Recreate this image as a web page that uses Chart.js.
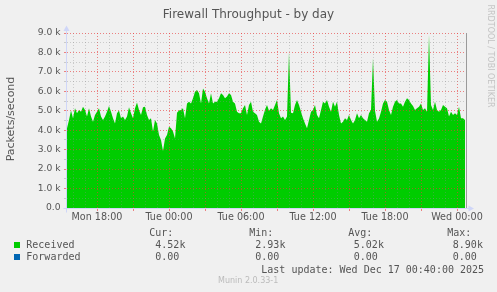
<!DOCTYPE html>
<html><head><meta charset="utf-8">
<script src="https://cdn.jsdelivr.net/npm/chart.js@4.4.1/dist/chart.umd.min.js"></script>
<style>
html,body{margin:0;padding:0;background:#f0f0f0;}
#wrap{position:relative;width:497px;height:292px;overflow:hidden;background:#f0f0f0;font-family:'DejaVu Sans',sans-serif;color:#555;}
#c{position:absolute;left:0;top:0;}
.t{position:absolute;white-space:pre;}
.mono{font-family:'DejaVu Sans Mono',monospace;font-size:10px;line-height:12px;color:#555;}
.sw{position:absolute;width:6px;height:6px;}
</style></head><body>
<div id="wrap">
<canvas id="c" width="497" height="292"></canvas>
<div class="t" style="left:0;top:7px;width:497px;text-align:center;font-size:12px;line-height:14px;color:#555;">Firewall Throughput - by day</div>
<div class="t" style="left:-38.8px;top:112px;width:100px;height:14px;text-align:center;font-size:11px;line-height:14px;color:#555;transform:rotate(-90deg);">Packets/second</div>
<div class="t" style="left:434.5px;top:51px;width:110px;height:10px;text-align:center;font-size:8px;line-height:10px;color:#c4c4c4;transform:rotate(90deg);">RRDTOOL / TOBI OETIKER</div>
<div id="legend"></div>
<div class="t" style="left:218px;top:276px;font-size:8px;line-height:10px;color:#bbb;">Munin 2.0.33-1</div>
</div>
<script>
// Received packets per second, in thousands, one sample every 10 minutes
const startHour = -8.5;          // Mon 15:30, hours relative to Tue 00:00
const stepHours = 10 / 60;
const xMaxHour = 24 + 50 / 60;
const received = [
4.10,
4.53,5.01,4.61,5.13,4.87,5.04,4.95,5.21,5.04,4.70,
5.13,4.70,4.44,4.78,4.95,5.13,4.70,4.53,4.70,4.95,
5.25,4.95,4.61,4.35,4.87,5.01,4.61,4.70,4.53,4.70,
5.18,4.87,4.61,5.13,5.42,5.04,4.78,5.18,5.21,4.78,
4.53,4.61,3.93,4.53,4.35,3.75,3.50,2.93,3.58,3.75,
4.18,
4.10,3.93,3.58,4.90,5.01,5.04,5.13,4.61,
5.38,5.47,5.38,5.64,5.98,6.07,5.90,5.38,6.15,5.98,
5.64,5.38,5.90,5.38,5.47,5.47,5.64,5.90,5.81,5.64,
5.73,5.90,5.81,5.47,5.38,4.95,4.87,4.87,5.13,5.30,
4.78,5.30,5.47,4.95,4.87,4.78,4.44,4.35,4.70,5.05,
5.30,5.00,
5.13,5.04,5.30,5.55,4.87,4.61,4.70,4.53,
4.70,8.00,4.90,4.87,5.30,5.55,5.30,4.95,4.61,4.35,
4.10,4.53,4.95,5.04,5.30,4.78,4.61,5.04,5.47,5.38,
5.55,5.21,4.95,5.47,5.21,5.47,4.78,4.35,4.44,4.61,
4.53,4.78,4.53,4.35,4.53,4.87,4.61,4.78,4.61,4.53,
4.44,4.87,
5.04,7.70,5.00,4.44,4.60,4.95,5.38,5.55,
5.47,5.04,4.78,5.21,5.47,5.55,5.38,5.38,5.21,5.47,
5.64,5.55,5.38,5.25,5.04,5.13,5.21,5.38,5.04,5.13,
4.95,8.90,5.30,5.04,5.47,5.04,4.95,5.04,5.30,5.21,
5.13,4.70,4.95,4.78,4.87,4.78,5.21,4.61,4.61,4.52
];
const yTickLabels = ['0.0','1.0 k','2.0 k','3.0 k','4.0 k','5.0 k','6.0 k','7.0 k','8.0 k','9.0 k'];
const xTickHours = [-6, 0, 6, 12, 18, 24];
const xTickLabels = ['Mon 18:00','Tue 00:00','Tue 06:00','Tue 12:00','Tue 18:00','Wed 00:00'];
const seriesNames = ['Received', 'Forwarded'];
const seriesColors = ['#00cc00', '#0066b3'];
const statHeaders = ['Cur:', 'Min:', 'Avg:', 'Max:'];
const statsReceived = ['4.52k', '2.93k', '5.02k', '8.90k'];
const statsForwarded = ['0.00', '0.00', '0.00', '0.00'];
const lastUpdate = 'Last update: Wed Dec 17 00:40:00 2025';

// legend (text block)
(function(){
  const L = document.getElementById('legend');
  const add = (txt, left, top, cls, extra) => {
    const d = document.createElement('div');
    d.className = 't ' + (cls || '');
    d.style.left = left + 'px'; d.style.top = top + 'px';
    if (extra) Object.assign(d.style, extra);
    d.textContent = txt; L.appendChild(d); return d;
  };
  const hx = [149.3, 249.3, 348.3, 447.3];
  const vx = [155.3, 255.3, 353.8, 452.8];
  statHeaders.forEach((h, i) => add(h, hx[i], 227, 'mono'));
  const rows = [statsReceived, statsForwarded];
  const rowTop = [239.3, 251.3];
  seriesNames.forEach((n, r) => {
    const sw = document.createElement('div');
    sw.className = 'sw'; sw.style.left = '14px'; sw.style.top = (rowTop[r] + 3) + 'px';
    sw.style.background = seriesColors[r]; L.appendChild(sw);
    add(n, 26.3, rowTop[r], 'mono');
    rows[r].forEach((v, i) => add(v, vx[i], rowTop[r], 'mono'));
  });
  add(lastUpdate, 261.3, 263.7, 'mono');
})();

const majorGrid = 'rgba(232,60,60,0.62)';
const minorGrid = 'rgba(140,140,140,0.38)';

const munAxes = {
  id: 'munAxes',
  afterDraw(chart) {
    const ctx = chart.ctx;
    const xs = chart.scales.x, ys = chart.scales.y;
    const yb = Math.round(ys.getPixelForValue(0)) + 0.5;
    const yt = Math.round(ys.getPixelForValue(ys.max));
    const xa = Math.round(xs.getPixelForValue(xs.min)) - 0.5;
    const xr = Math.round(xs.getPixelForValue(xs.max)) - 0.5;
    ctx.save();
    ctx.lineWidth = 1;
    ctx.strokeStyle = '#9a9a9a';
    ctx.beginPath(); ctx.moveTo(xr, yt); ctx.lineTo(xr, yb); ctx.stroke();
    ctx.strokeStyle = '#cfd6f8'; ctx.fillStyle = '#cfd6f8';
    ctx.beginPath(); ctx.moveTo(xa - 3, yb); ctx.lineTo(xr + 3, yb); ctx.stroke();
    ctx.beginPath(); ctx.moveTo(xr + 7.5, yb); ctx.lineTo(xr + 2, yb - 3); ctx.lineTo(xr + 2, yb + 3); ctx.closePath(); ctx.fill();
    ctx.beginPath(); ctx.moveTo(xa, yb + 4); ctx.lineTo(xa, yt - 3); ctx.stroke();
    ctx.beginPath(); ctx.moveTo(xa, yt - 7.5); ctx.lineTo(xa - 3, yt - 2); ctx.lineTo(xa + 3, yt - 2); ctx.closePath(); ctx.fill();
    ctx.restore();
  }
};

const isMajorX = v => Math.abs(v / 3 - Math.round(v / 3)) < 1e-6;
const isWhole = v => Math.abs(v - Math.round(v)) < 1e-6;

new Chart(document.getElementById('c'), {
  type: 'line',
  data: {
    datasets: [{
      label: seriesNames[0],
      data: received.map((v, i) => ({x: startHour + i * stepHours, y: v})),
      backgroundColor: seriesColors[0],
      borderColor: 'rgba(0,0,0,0)',
      borderWidth: 0,
      fill: 'origin',
      pointRadius: 0,
      tension: 0
    }]
  },
  options: {
    responsive: false,
    animation: false,
    devicePixelRatio: 1,
    layout: {padding: {left: 0, right: 30, top: 33, bottom: 64}},
    plugins: {legend: {display: false}, tooltip: {enabled: false}, title: {display: false}},
    scales: {
      x: {
        type: 'linear', min: startHour, max: xMaxHour,
        afterFit(s) { s.height = 20; },
        grid: {
          z: 1,
          color: c => isMajorX(c.tick.value) ? majorGrid : minorGrid,
          tickColor: c => isMajorX(c.tick.value) ? majorGrid : 'rgba(0,0,0,0)',
          lineWidth: 1, drawTicks: true, tickLength: 3
        },
        border: {display: false, dash: [1, 2]},
        ticks: {
          z: 1,
          stepSize: 1, includeBounds: false, autoSkip: false, maxRotation: 0, minRotation: 0,
          padding: 1, color: '#555', font: {family: 'DejaVu Sans', size: 9.6},
          callback: v => { const k = xTickHours.findIndex(h => Math.abs(h - v) < 1e-6); return k >= 0 ? xTickLabels[k] : ''; }
        }
      },
      y: {
        min: 0, max: 9,
        afterFit(s) { s.width = 67; },
        grid: {
          z: 1,
          color: c => isWhole(c.tick.value) ? majorGrid : minorGrid,
          tickColor: c => isWhole(c.tick.value) ? majorGrid : minorGrid,
          lineWidth: 1, drawTicks: true, tickLength: 3
        },
        border: {display: false, dash: [1, 2]},
        ticks: {
          z: 1,
          stepSize: 0.5, includeBounds: false, autoSkip: false,
          padding: 3.5, color: '#555', font: {family: 'DejaVu Sans', size: 9.2},
          callback: v => isWhole(v) ? yTickLabels[Math.round(v)] : ''
        }
      }
    }
  },
  plugins: [munAxes]
});
</script>
</body></html>
